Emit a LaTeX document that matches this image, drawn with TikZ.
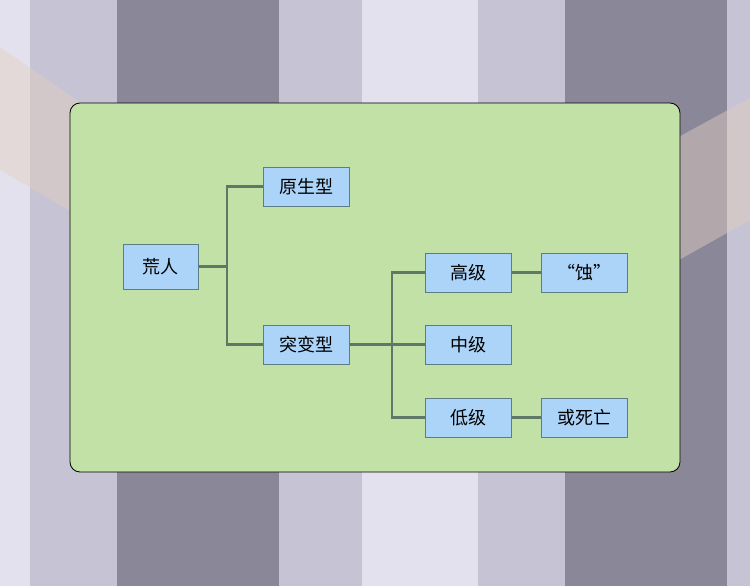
\documentclass[tikz,border=0pt]{standalone}
\usepackage{fontspec}
\setmainfont{Noto Sans CJK SC}
\definecolor{stripelight}{RGB}{227,225,238}
\definecolor{stripemid}{RGB}{197,195,212}
\definecolor{stripedark}{RGB}{138,135,153}
\definecolor{beamcol}{RGB}{228,208,192}
\definecolor{panelgreen}{RGB}{193,225,166}
\definecolor{boxblue}{RGB}{172,212,248}
\definecolor{boxline}{RGB}{92,124,134}
\definecolor{linkcol}{RGB}{94,120,104}
\begin{document}
\begin{tikzpicture}[
    x = 1pt,
    y = -1pt,
    beam/.style = {fill = beamcol, fill opacity = 0.45, draw = none},
    panel/.style = {
        draw = black,
        line width = 0.8pt,
        fill = panelgreen,
        rounded corners = 10pt
    },
    item/.style = {
        draw = boxline,
        line width = 1pt,
        fill = boxblue,
        rectangle,
        minimum width = 86pt,
        minimum height = 39pt,
        inner sep = 0pt,
        font = \fontsize{18}{21}\selectfont
    },
    link/.style = {draw = linkcol, line width = 2.2pt}
]
\useasboundingbox (0, 0) rectangle (750, 586);

% Background stripes
\fill[stripelight] (0, 0) rectangle (30, 586);
\fill[stripemid] (30, 0) rectangle (117, 586);
\fill[stripedark] (117, 0) rectangle (279, 586);
\fill[stripemid] (279, 0) rectangle (362, 586);
\fill[stripelight] (362, 0) rectangle (478, 586);
\fill[stripemid] (478, 0) rectangle (565, 586);
\fill[stripedark] (565, 0) rectangle (727, 586);
\fill[stripemid] (727, 0) rectangle (750, 586);

% Light beams
\fill[beam] (0, 47) -- (120, 130) -- (120, 240) -- (0, 170) -- cycle;
\fill[beam] (640, 158) -- (750, 98) -- (750, 220) -- (640, 282) -- cycle;

% Panel
\draw[panel] (70, 103) rectangle (680, 472);

% Level 1
\node[item, minimum width = 75pt, minimum height = 45pt] (huangren) at (160.5, 266.5) {荒人};

% Level 2
\node[item] (yuansheng) at (306, 186.5) {原生型};
\node[item] (tubian) at (306, 344.5) {突变型};

% Level 3
\node[item] (gaoji) at (468.5, 272.5) {高级};
\node[item] (zhongji) at (468.5, 344.5) {中级};
\node[item] (diji) at (468.5, 417.5) {低级};

% Level 4
\node[item] (shi) at (584, 272.5) {“蚀”};
\node[item] (huosiwang) at (584, 417.5) {或死亡};

% Connectors
\coordinate (fork1) at (227, 266.5);
\coordinate (fork2) at (392, 344.5);
\draw[link] (huangren.east) -- (fork1);
\draw[link] (fork1) |- (yuansheng.west);
\draw[link] (fork1) |- (tubian.west);
\draw[link] (tubian.east) -- (fork2);
\draw[link] (fork2) |- (gaoji.west);
\draw[link] (fork2) -- (zhongji.west);
\draw[link] (fork2) |- (diji.west);
\draw[link] (gaoji.east) -- (shi.west);
\draw[link] (diji.east) -- (huosiwang.west);

\end{tikzpicture}
\end{document}
